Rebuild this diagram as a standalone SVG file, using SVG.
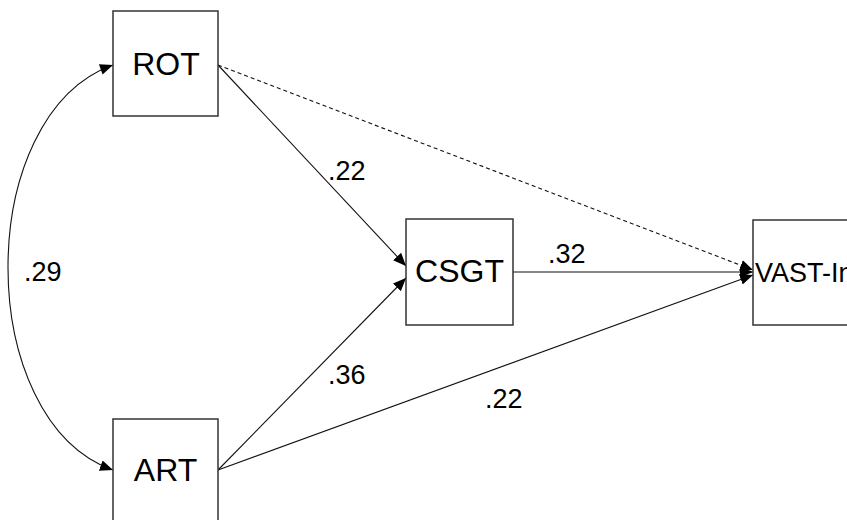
<svg xmlns="http://www.w3.org/2000/svg" width="847" height="520" viewBox="0 0 847 520">
<style>
.box{fill:#fff;stroke:#333;stroke-width:1.5}
.nt{font-family:"Liberation Sans",Arial,sans-serif;font-size:32px;fill:#000;text-anchor:middle}
.lb{font-family:"Liberation Sans",Arial,sans-serif;font-size:27px;fill:#000}
.ed{fill:none;stroke:#111;stroke-width:1.1}
.dash{stroke-dasharray:4,3}
</style>
<defs>
<marker id="ah" markerUnits="userSpaceOnUse" markerWidth="14" markerHeight="12" refX="13" refY="5.5" orient="auto">
<path d="M0,0 L13,5.5 L0,11 z" fill="#000"/>
</marker>
<marker id="ahs" markerUnits="userSpaceOnUse" markerWidth="14" markerHeight="12" refX="0" refY="5.5" orient="auto">
<path d="M13,0 L0,5.5 L13,11 z" fill="#000"/>
</marker>
</defs>
<rect width="847" height="520" fill="#fff"/>
<g id="connectors">
<path class="ed" d="M113,65 C -27,115 -27,420 113,470" marker-start="url(#ahs)" marker-end="url(#ah)"/>
<line class="ed" x1="218" y1="65" x2="406" y2="266" marker-end="url(#ah)"/>
<line class="ed dash" x1="218" y1="65" x2="753" y2="270" marker-end="url(#ah)"/>
<line class="ed" x1="218" y1="470" x2="406" y2="278" marker-end="url(#ah)"/>
<line class="ed" x1="218" y1="470" x2="753" y2="275" marker-end="url(#ah)"/>
<line class="ed" x1="513" y1="272" x2="753" y2="272" marker-end="url(#ah)"/>
<text class="lb" x="24" y="281">.29</text>
<text class="lb" x="328" y="180">.22</text>
<text class="lb" x="548" y="263">.32</text>
<text class="lb" x="328" y="384">.36</text>
<text class="lb" x="485" y="408">.22</text>
</g>
<g id="node-ROT">
<rect class="box" x="113" y="11" width="105" height="105"/>
<text class="nt" x="166" y="75">ROT</text>
</g>
<g id="node-CSGT">
<rect class="box" x="406" y="219" width="107" height="106"/>
<text class="nt" x="459.5" y="282">CSGT</text>
</g>
<g id="node-VAST">
<rect class="box" x="753" y="220" width="107" height="105"/>
<text class="nt" x="755" y="282" style="text-anchor:start;font-size:27px">VAST-In</text>
</g>
<g id="node-ART">
<rect class="box" x="113" y="419" width="105" height="105"/>
<text class="nt" x="165.5" y="481">ART</text>
</g>
</svg>
